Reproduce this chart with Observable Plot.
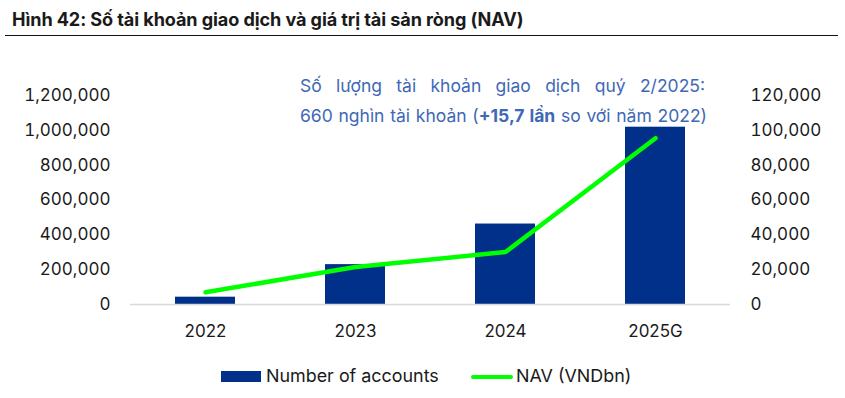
<!DOCTYPE html>
<html>
<head>
<meta charset="utf-8">
<script src="https://cdn.jsdelivr.net/npm/d3@7"></script>
<script src="https://cdn.jsdelivr.net/npm/@observablehq/plot@0.6"></script>
<style>
  html, body { margin: 0; padding: 0; background: #fff; }
  #wrap { position: relative; width: 845px; height: 398px; overflow: hidden; font-family: Inter, "Noto Sans", sans-serif; }
  #title { position: absolute; left: 12px; top: 8px; font-size: 18.1px; font-weight: 700; color: #1a1a1a; letter-spacing: -0.1px; white-space: nowrap; }
  #rule { position: absolute; left: 5px; width: 833px; top: 35px; height: 0; border-top: 1.5px solid #111; }
  #plot { position: absolute; left: 0; top: 0; }
  .note { position: absolute; right: 140px; width: 405px; font-size: 17.5px; color: #4068b6; white-space: nowrap; }
  #n1 { top: 75px; text-align: justify; text-align-last: justify; white-space: normal; }
  #n2 { top: 105px; text-align: right; word-spacing: 0.8px; }
  #legend { position: absolute; top: 365px; left: 0; width: 845px; font-size: 17.9px; color: #1a1a1a; }
  .li { position: absolute; top: 0; white-space: nowrap; }
</style>
</head>
<body>
<div id="wrap">
  <div id="plot"></div>
  <div id="title">Hình 42: Số tài khoản giao dịch và giá trị tài sản ròng (NAV)</div>
  <div id="rule"></div>
  <div class="note" id="n1">Số lượng tài khoản giao dịch quý 2/2025:</div>
  <div class="note" id="n2">660 nghìn tài khoản (<b>+15,7 lần</b> so với năm 2022)</div>
  <div id="legend"></div>
</div>
<script>
const years = ["2022", "2023", "2024", "2025G"];
const accounts = [42000, 229000, 462000, 1018000];
const nav = [7000, 21500, 30100, 95500];
const leftTicks = [0, 200000, 400000, 600000, 800000, 1000000, 1200000];
const rightTicks = [0, 20000, 40000, 60000, 80000, 100000, 120000];

const barColor = "#00308a";
const lineColor = "#00ff00";
const ratio = 1200000 / 120000;

const rows = years.map((y, i) => ({year: y, accounts: accounts[i], nav: nav[i]}));
const fmt = d3.format(",");

const chart = Plot.plot({
  width: 845,
  height: 398,
  marginTop: 95,
  marginBottom: 94,
  marginLeft: 130,
  marginRight: 115,
  style: {fontFamily: "Inter, 'Noto Sans', sans-serif", fontSize: "17px", color: "#1a1a1a", background: "transparent"},
  x: {domain: years, paddingInner: 0.6, paddingOuter: 0.3, label: null},
  y: {domain: [0, 1200000], label: null},
  marks: [
    Plot.barY(rows, {x: "year", y: "accounts", fill: barColor}),
    Plot.ruleY([0], {stroke: "#d9d9d9", strokeWidth: 1.5}),
    Plot.line(rows, {x: "year", y: d => d.nav * ratio, stroke: lineColor, strokeWidth: 4.5, strokeLinecap: "round", strokeLinejoin: "round"}),
    Plot.axisX({tickSize: 0, tickPadding: 20, fontSize: 17, label: null}),
    Plot.axisY({anchor: "left", ticks: leftTicks, tickSize: 0, tickPadding: 20, tickFormat: fmt, fontSize: 17, label: null}),
    Plot.axisY({anchor: "right", ticks: rightTicks.map(v => v * ratio), tickSize: 0, tickPadding: 20, tickFormat: d => fmt(d / ratio), fontSize: 17, label: null})
  ]
});
document.getElementById("plot").appendChild(chart);

const legend = document.getElementById("legend");
legend.innerHTML = `
  <div class="li" style="left:221px;top:6px;width:40px;height:11px;background:${barColor}"></div>
  <div class="li" style="left:266px;">Number of accounts</div>
  <div class="li" style="left:471px;top:10px;width:42px;height:4px;border-radius:2px;background:${lineColor}"></div>
  <div class="li" style="left:516px;">NAV (VNDbn)</div>
`;
</script>
</body>
</html>
